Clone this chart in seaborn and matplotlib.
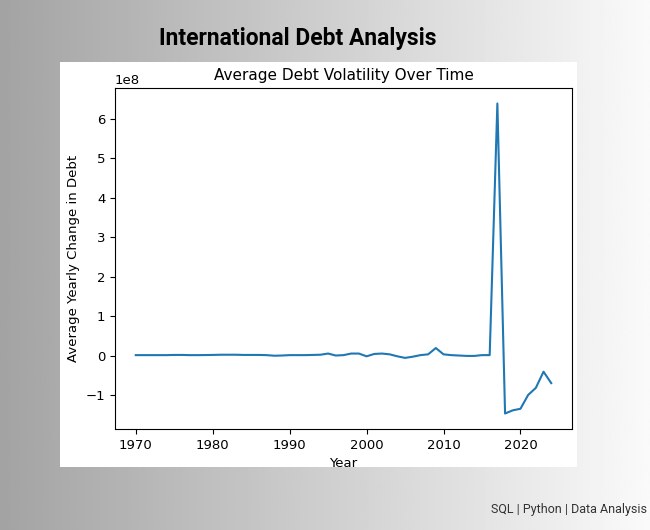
import numpy as np
import pandas as pd
import seaborn as sns
import matplotlib.pyplot as plt
from matplotlib.patches import Rectangle

# average yearly change in debt (units of 1e8)
years = list(range(1970, 2025))
change_1e8 = [
    0.01, 0.01, 0.01, 0.01, 0.01, 0.015, 0.015, 0.01, 0.01, 0.012,
    0.015, 0.02, 0.02, 0.02, 0.015, 0.015, 0.015, 0.01, -0.005, 0.0,
    0.01, 0.01, 0.01, 0.015, 0.02, 0.05, 0.0, 0.01, 0.05, 0.05,
    -0.02, 0.04, 0.05, 0.03, -0.02, -0.06, -0.03, 0.01, 0.03, 0.19,
    0.03, 0.01, 0.0, -0.01, -0.01, 0.01, 0.01, 6.39, -1.47, -1.39,
    -1.35, -1.0, -0.82, -0.41, -0.70,
]

df = pd.DataFrame({"Year": years, "Change": [v * 1e8 for v in change_1e8]})

W, H = 650, 530
fig = plt.figure(figsize=(W / 100, H / 100), dpi=100)

# grey-to-white gradient background
bg = fig.add_axes([0, 0, 1, 1])
grad = np.linspace(0.64, 0.98, 256).reshape(1, -1)
bg.imshow(grad, cmap="gray", vmin=0, vmax=1, aspect="auto", extent=[0, 1, 0, 1])
bg.set_xlim(0, 1)
bg.set_ylim(0, 1)
bg.axis("off")

# white panel holding the chart
bg.add_patch(Rectangle((60 / W, 1 - 467 / H), 517 / W, 405 / H,
                       facecolor="white", edgecolor="none"))

fig.text(298 / W, 1 - 38 / H, "International Debt Analysis", ha="center", va="center",
         fontsize=16.5, fontweight="bold", family=["Roboto", "DejaVu Sans"], color="black")
fig.text(647 / W, 1 - 510 / H, "SQL | Python | Data Analysis", ha="right", va="center",
         fontsize=9, family=["Roboto", "DejaVu Sans"], color="#333333")

ax = fig.add_axes([115 / W, 1 - 429 / H, 457 / W, 341 / H])
sns.lineplot(data=df, x="Year", y="Change", ax=ax, color="#1f77b4", linewidth=1.5)
ax.set_title("Average Debt Volatility Over Time", fontsize=11)
ax.set_xlabel("Year", fontsize=9.5)
ax.set_ylabel("Average Yearly Change in Debt", fontsize=9.5)
ax.tick_params(labelsize=9.5)
ax.yaxis.get_offset_text().set_fontsize(9.5)

fig.savefig("out.png", dpi=100)
